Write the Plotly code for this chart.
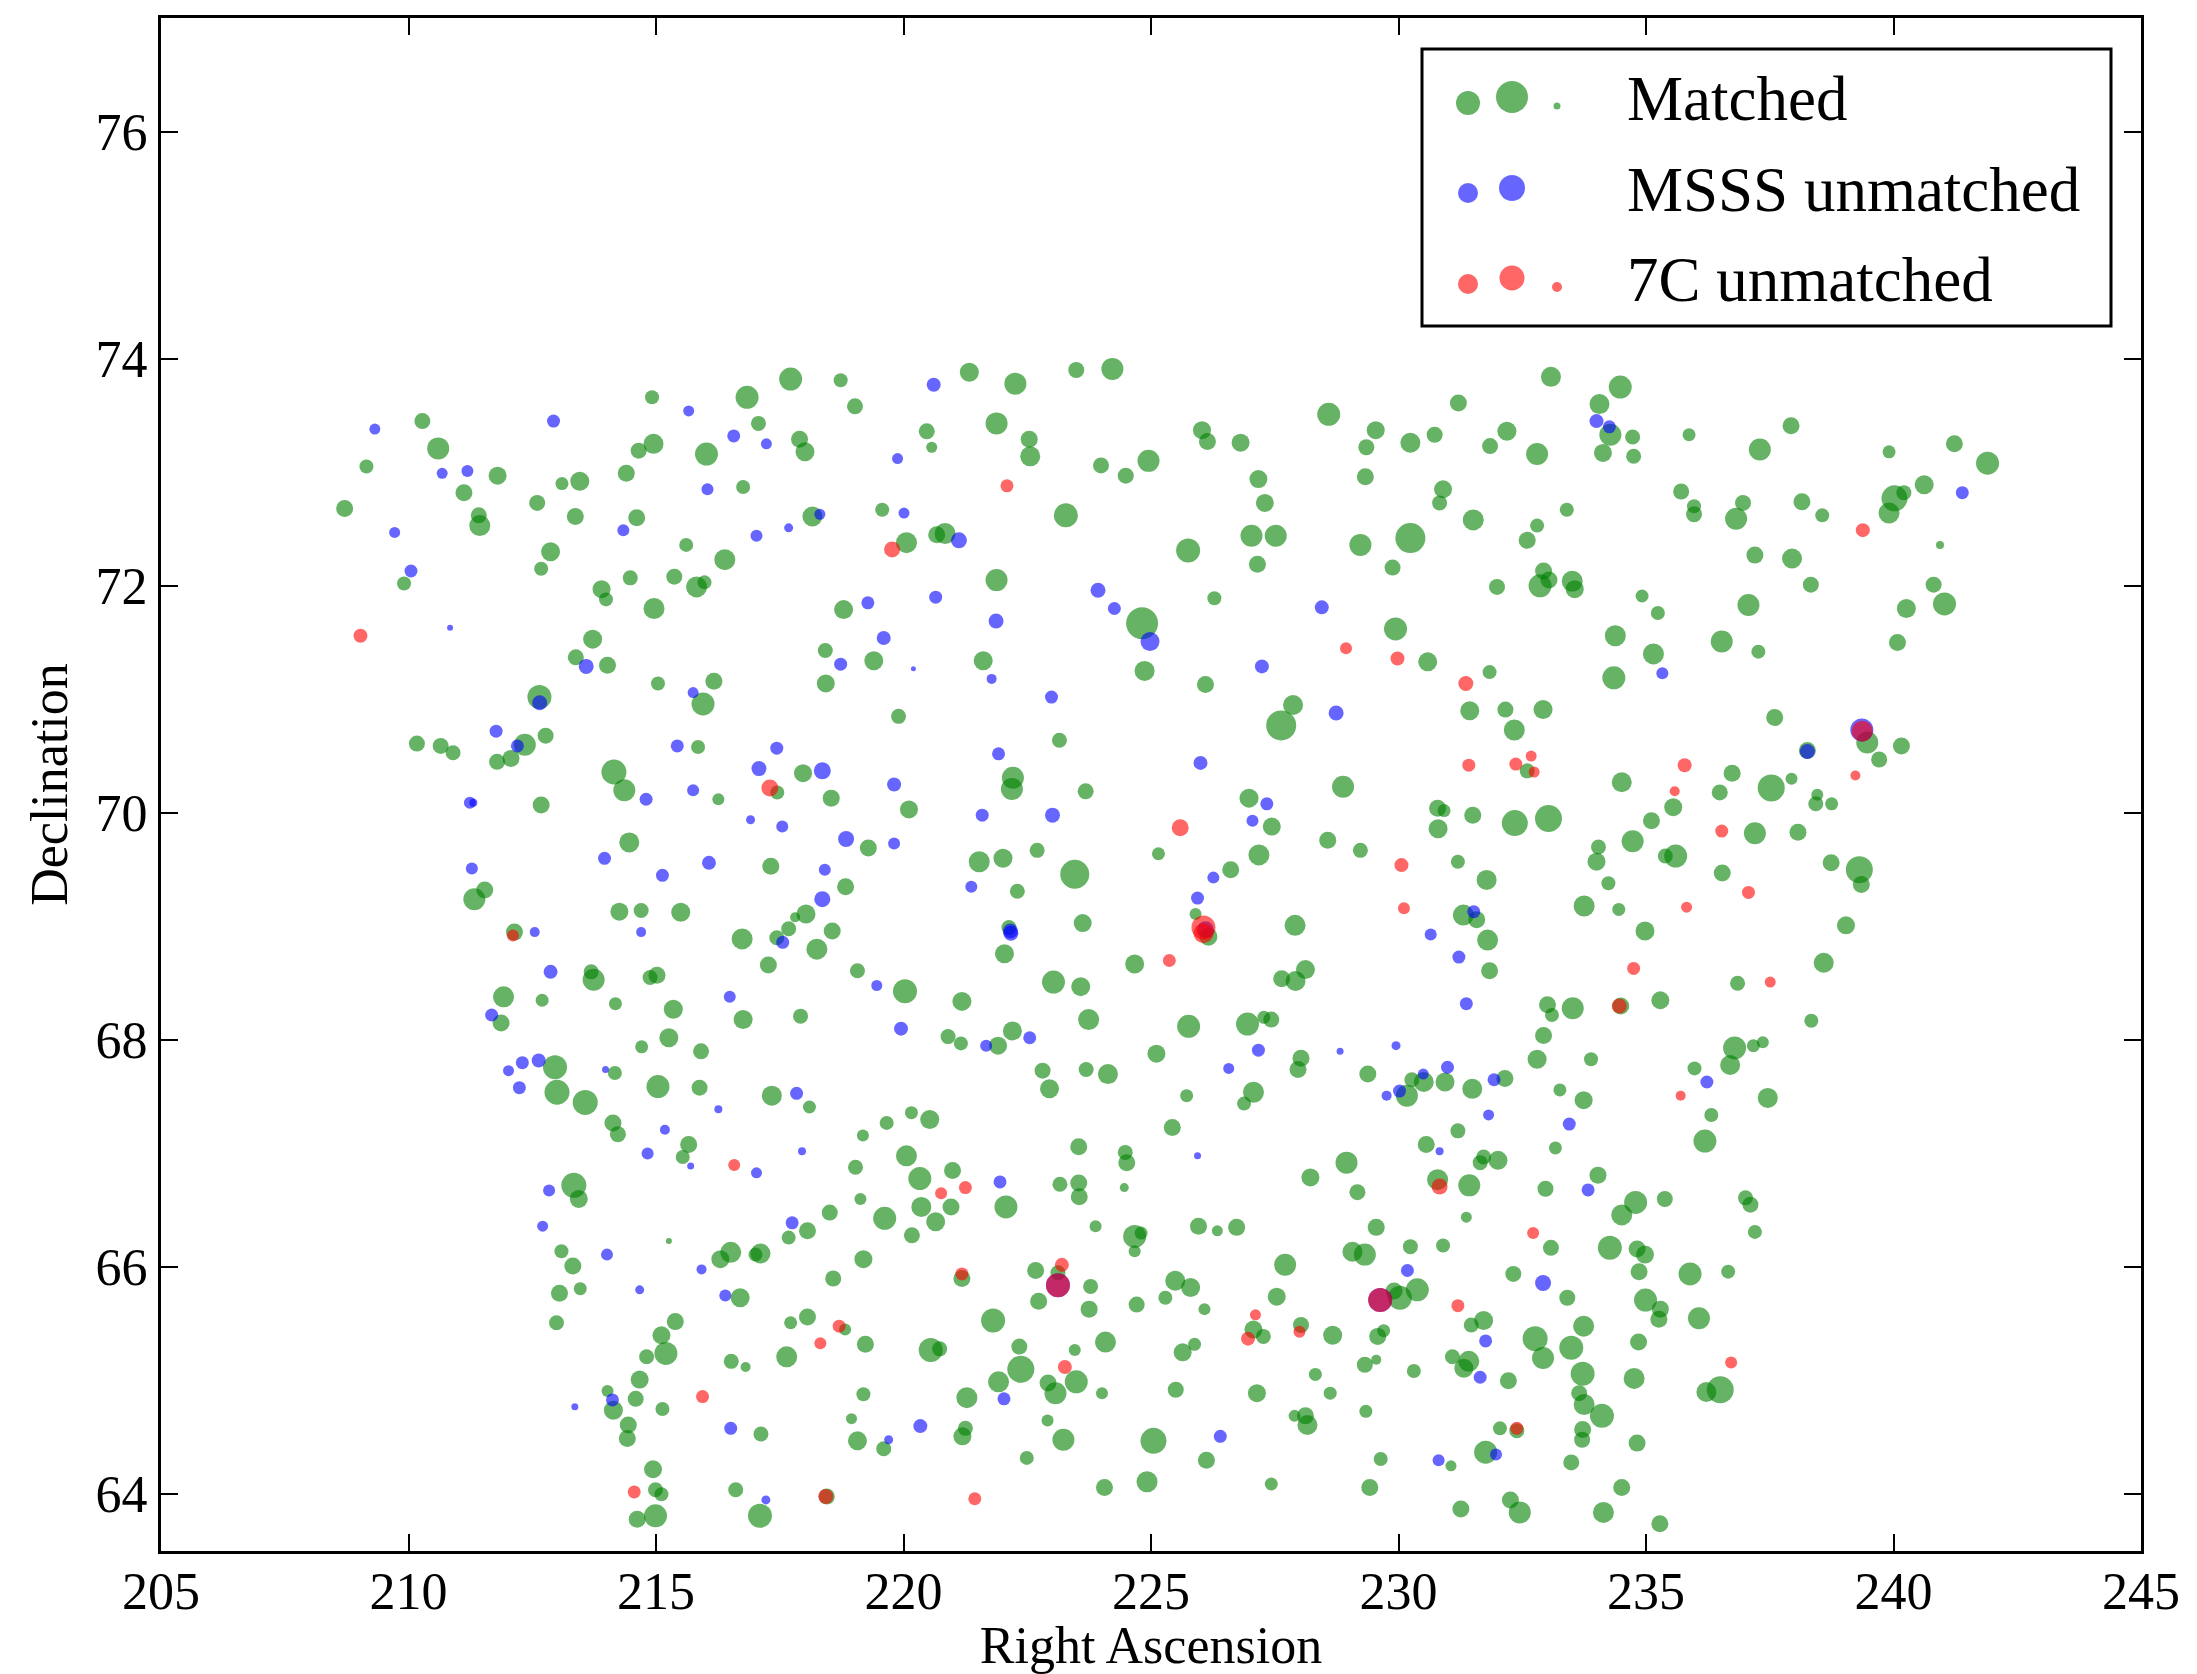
import plotly.graph_objects as go

# (RA, Dec, marker diameter) for each source class
matched = [
(210.28,73.45,16),(210.60,73.21,22),(209.15,73.05,14),(211.80,72.97,18),(211.12,72.82,17),(208.71,72.68,17),(211.42,72.62,16),(211.44,72.53,21),(212.60,72.73,16),(213.10,72.90,13),(213.46,72.92,19),(214.40,72.99,17),(213.37,72.61,17),(214.61,72.60,17),(214.92,73.66,14),(216.84,73.66,23),(217.72,73.82,23),(218.73,73.81,14),(219.02,73.58,16),(214.95,73.25,20),(214.65,73.19,16),(216.02,73.16,23),(217.07,73.43,15),(217.90,73.29,17),(218.01,73.18,19),(216.76,72.87,14),(218.16,72.61,20),(215.61,72.36,14),(216.39,72.23,21),(209.91,72.02,14),(212.87,72.30,19),(212.68,72.15,14),(213.90,71.97,18),(213.99,71.88,14),(214.48,72.07,15),(215.37,72.08,16),(215.82,71.99,21),(215.98,72.03,14),(214.96,71.80,21),(218.79,71.79,19),(213.72,71.53,19),(213.38,71.37,16),(214.02,71.30,17),(215.04,71.14,14),(216.17,71.16,17),(215.95,70.96,23),(218.42,71.43,15),(218.43,71.14,18),(212.645,71.02,24),(210.17,70.61,16),(210.65,70.59,16),(210.90,70.53,15),(212.35,70.60,22),(212.77,70.68,16),(215.85,70.58,14),
(221.33,73.88,19),(222.26,73.78,22),(223.49,73.90,16),(224.22,73.91,22),(220.47,73.36,16),(220.57,73.22,11),(221.88,73.43,22),(222.54,73.29,17),(222.56,73.14,20),(223.99,73.06,16),(224.49,72.97,16),(224.95,73.10,22),(226.03,73.37,18),(226.14,73.27,17),(226.81,73.26,18),(228.59,73.51,23),(229.54,73.37,18),(229.35,73.22,16),(230.24,73.26,20),(230.73,73.33,16),(227.17,72.94,18),(227.30,72.73,18),(229.33,72.96,17),(219.57,72.67,14),(220.06,72.38,21),(220.67,72.45,17),(220.84,72.46,21),(223.28,72.62,24),(225.75,72.31,24),(227.03,72.44,22),(227.52,72.44,22),(227.15,72.19,17),(229.23,72.36,22),(230.24,72.42,30),(229.88,72.16,16),(221.88,72.05,22),(224.82,71.67,32),(226.28,71.89,14),(229.94,71.62,23),(230.59,71.33,19),(219.40,71.34,19),(221.61,71.34,19),(224.87,71.25,20),(226.10,71.13,17),(219.90,70.85,15),(223.15,70.64,15),(227.87,70.95,20),(227.63,70.77,30),
(231.21,73.61,17),(233.08,73.84,20),(234.48,73.75,23),(234.06,73.60,20),(234.28,73.33,22),(234.73,73.31,15),(234.13,73.17,18),(234.75,73.14,15),(232.19,73.36,19),(231.85,73.23,16),(232.80,73.16,22),(235.87,73.33,13),(237.30,73.20,22),(237.93,73.41,17),(239.91,73.18,13),(241.23,73.25,17),(241.90,73.08,23),(230.90,72.85,18),(230.83,72.73,15),(231.51,72.58,21),(233.40,72.67,14),(232.80,72.53,14),(232.60,72.40,17),(235.71,72.83,16),(235.97,72.70,14),(235.97,72.63,16),(236.96,72.73,16),(236.82,72.59,22),(238.15,72.74,17),(238.56,72.62,14),(240.02,72.77,26),(240.21,72.82,15),(239.91,72.64,21),(240.62,72.89,19),(240.94,72.36,8),(237.20,72.27,17),(237.95,72.24,20),(238.33,72.01,16),(232.93,72.13,17),(232.86,72.00,23),(233.04,72.05,17),(233.51,72.04,21),(233.56,71.97,18),(231.99,71.99,16),(234.92,71.91,13),(235.24,71.76,14),(237.07,71.83,22),(240.81,72.01,16),(240.26,71.80,19),(241.03,71.84,23),(234.38,71.56,21),(235.15,71.40,21),(234.35,71.19,23),(236.53,71.51,22),(237.27,71.42,14),(240.08,71.50,17),(231.84,71.24,14),(231.44,70.90,19),(232.16,70.91,16),(232.92,70.91,19),(232.34,70.73,21),(237.60,70.84,17),(239.47,70.62,22),(240.16,70.59,17),(238.26,70.55,17),
(211.79,70.45,16),(212.07,70.48,17),(214.15,70.36,25),(214.36,70.20,22),(212.68,70.07,17),(216.26,70.12,12),(217.45,70.18,14),(217.97,70.35,18),(218.54,70.13,17),(214.46,69.74,20),(217.32,69.53,17),(218.83,69.35,17),(211.54,69.32,17),(211.33,69.24,22),(214.26,69.13,18),(214.70,69.14,15),(215.50,69.125,19),(218.03,69.11,19),(217.81,69.08,10),(217.68,68.98,15),(218.56,68.96,17),(217.44,68.90,15),(216.74,68.89,21),(218.25,68.80,21),(212.14,68.95,17),(217.27,68.66,17),(213.69,68.60,15),(213.74,68.53,22),(214.88,68.55,15),(215.02,68.57,17),(211.92,68.38,21),(212.70,68.35,13),(214.18,68.32,13),(215.35,68.27,19),(216.76,68.18,19),(217.92,68.21,15),(211.87,68.15,17),(215.26,68.02,19),(214.71,67.94,13),(215.91,67.90,16),(212.96,67.76,24),(214.17,67.71,14),(213.00,67.54,25),(213.57,67.45,25),(215.04,67.59,23),(215.88,67.58,16),(217.34,67.51,20),(218.10,67.41,13),(214.13,67.27,17),(214.23,67.17,16),(215.66,67.08,17),(215.54,66.97,14),
(222.21,70.31,22),(222.19,70.21,22),(220.11,70.03,18),(223.68,70.19,16),(226.98,70.13,19),(227.44,69.88,18),(228.88,70.23,22),(219.29,69.69,17),(221.53,69.57,21),(222.01,69.60,19),(222.70,69.67,15),(223.46,69.46,29),(222.30,69.31,15),(225.15,69.64,13),(227.18,69.63,21),(226.61,69.50,17),(228.57,69.76,17),(229.23,69.67,15),(225.90,69.11,12),(226.16,68.91,18),(227.91,69.01,21),(222.13,68.99,15),(222.04,68.76,19),(223.62,69.03,18),(219.07,68.61,15),(220.03,68.43,24),(221.18,68.34,19),(223.03,68.51,23),(223.58,68.47,19),(224.67,68.67,19),(227.64,68.54,17),(228.12,68.62,19),(227.92,68.52,20),(220.90,68.03,15),(221.16,67.97,14),(221.91,67.95,18),(222.20,68.08,19),(223.74,68.18,21),(225.76,68.12,23),(225.11,67.88,18),(226.95,68.14,23),(227.28,68.20,13),(227.43,68.18,16),(228.03,67.84,17),(227.97,67.74,17),(229.38,67.70,17),(230.27,67.65,15),(230.51,67.63,20),(230.17,67.51,22),(222.81,67.73,16),(222.95,67.57,19),(223.69,67.74,15),(224.13,67.70,20),(227.07,67.54,21),(226.88,67.44,14),(225.72,67.51,13),(225.43,67.23,17),(219.66,67.27,14),(220.16,67.36,13),(220.53,67.30,19),(219.18,67.16,12),(220.06,66.98,21),(223.54,67.06,17),(224.48,67.01,15),(224.51,66.92,17),(230.56,67.08,17),(228.95,66.92,22),
(232.60,70.37,15),(234.51,70.27,20),(236.74,70.35,17),(236.49,70.18,16),(237.53,70.22,27),(237.94,70.30,12),(238.46,70.16,12),(238.43,70.08,15),(238.75,70.08,13),(239.71,70.47,16),(230.79,70.04,17),(230.92,70.02,13),(230.80,69.86,19),(231.50,69.98,17),(232.35,69.91,26),(233.03,69.95,27),(235.11,69.93,17),(235.55,70.05,18),(237.20,69.82,22),(238.07,69.83,17),(234.73,69.75,22),(234.04,69.70,15),(234.00,69.57,18),(235.60,69.62,23),(235.39,69.62,15),(231.20,69.57,14),(231.78,69.41,20),(234.24,69.38,14),(236.54,69.47,17),(238.74,69.56,17),(239.31,69.50,27),(239.35,69.37,17),(233.75,69.18,21),(234.45,69.15,13),(234.98,68.96,19),(239.04,69.01,18),(231.31,69.10,21),(231.58,69.06,17),(231.80,68.88,21),(231.84,68.61,17),(238.59,68.68,20),(236.85,68.50,15),(233.01,68.31,17),(233.10,68.22,14),(233.52,68.28,22),(234.49,68.30,17),(235.29,68.35,18),(238.34,68.17,14),(232.93,68.04,17),(232.80,67.83,19),(233.89,67.83,14),(236.79,67.93,23),(237.17,67.95,13),(237.36,67.98,12),(236.70,67.78,20),(235.98,67.75,14),(237.46,67.49,20),(236.32,67.34,14),(236.19,67.11,23),(230.94,67.63,19),(232.15,67.66,17),(231.49,67.57,20),(233.26,67.56,13),(233.74,67.47,18),(231.20,67.20,15),(233.17,67.05,13),(231.72,66.97,15),(232.01,66.94,19),(231.65,66.92,15),
(213.34,66.72,25),(213.44,66.60,18),(215.26,66.23,6),(213.09,66.14,14),(213.32,66.01,17),(213.05,65.77,17),(213.47,65.81,13),(212.99,65.51,15),(216.30,66.07,18),(216.51,66.13,21),(217.01,66.11,14),(217.11,66.12,20),(216.70,65.73,19),(218.06,66.32,17),(217.68,66.26,14),(218.51,66.48,16),(218.58,65.90,16),(215.39,65.52,17),(215.11,65.40,18),(215.20,65.24,23),(214.81,65.21,15),(214.67,65.01,18),(214.02,64.91,12),(214.14,64.74,19),(214.59,64.84,16),(215.13,64.75,14),(214.44,64.61,17),(214.42,64.49,17),(216.52,65.17,15),(216.81,65.12,10),(217.64,65.21,21),(217.72,65.51,13),(218.06,65.56,17),(218.82,65.45,12),(218.95,64.665,11),(217.12,64.53,15),(214.94,64.22,18),(214.99,64.04,15),(215.11,64.00,14),(214.62,63.78,17),(214.99,63.81,23),(216.61,64.04,15),(217.10,63.81,24),(218.45,63.98,16),
(219.03,66.88,15),(220.99,66.85,17),(220.33,66.78,23),(223.16,66.73,15),(223.54,66.74,17),(223.55,66.62,17),(224.46,66.70,9),(219.13,66.60,12),(220.36,66.53,20),(220.96,66.53,17),(222.07,66.53,23),(219.62,66.43,23),(220.65,66.40,19),(220.17,66.28,16),(219.19,66.07,18),(223.88,66.36,12),(224.67,66.27,23),(224.80,66.30,13),(224.67,66.14,12),(225.96,66.36,17),(226.34,66.32,11),(226.73,66.35,17),(228.22,66.79,18),(229.17,66.66,16),(229.55,66.35,17),(230.24,66.18,15),(229.07,66.135,20),(229.32,66.11,22),(227.71,66.02,22),(221.18,65.90,17),(222.67,65.97,17),(223.12,65.95,15),(223.78,65.83,15),(222.73,65.70,17),(223.75,65.63,17),(224.71,65.67,16),(225.49,65.88,20),(225.80,65.82,19),(225.29,65.73,14),(226.08,65.63,12),(227.54,65.74,18),(221.81,65.53,24),(219.23,65.32,17),(220.55,65.27,24),(220.73,65.28,15),(222.34,65.30,16),(222.37,65.10,27),(223.46,65.27,12),(224.08,65.34,21),(221.92,64.99,21),(222.92,64.98,17),(223.07,64.89,22),(223.49,64.99,23),(224.01,64.89,12),(219.19,64.88,14),(221.28,64.85,21),(221.25,64.58,15),(221.19,64.51,18),(219.60,64.40,15),(219.07,64.47,19),(222.91,64.65,12),(223.23,64.48,22),(222.49,64.32,14),(225.05,64.47,26),(225.64,65.25,18),(225.88,65.32,13),(227.07,65.45,18),(227.27,65.39,15),(228.03,65.49,16),(228.67,65.40,19),(229.91,65.79,17),(230.03,65.73,24),(230.38,65.80,23),(229.70,65.44,13),(229.58,65.39,17),(229.32,65.14,16),(229.55,65.185,10),(228.32,65.055,13),(230.31,65.085,14),(225.50,64.92,16),(227.14,64.89,18),(228.62,64.89,13),(229.34,64.73,13),(227.90,64.69,12),(228.12,64.69,17),(228.16,64.61,20),(226.12,64.30,17),(229.64,64.31,14),(224.06,64.06,17),(224.92,64.11,21),(227.43,64.09,13),(229.42,64.06,17),
(230.79,66.77,21),(231.43,66.72,22),(232.97,66.69,16),(234.03,66.81,17),(231.37,66.44,11),(230.90,66.19,14),(233.08,66.17,16),(234.79,66.57,23),(234.51,66.46,21),(235.38,66.60,16),(237.01,66.61,15),(237.11,66.55,16),(237.20,66.31,14),(234.27,66.17,24),(234.82,66.16,17),(234.98,66.11,18),(234.86,65.96,17),(235.89,65.94,23),(236.66,65.96,14),(232.32,65.94,16),(233.41,65.73,16),(231.72,65.53,19),(231.47,65.49,15),(232.76,65.37,25),(232.92,65.20,22),(233.74,65.48,21),(233.49,65.29,24),(234.99,65.71,23),(235.29,65.63,17),(235.26,65.54,17),(236.07,65.55,22),(234.85,65.34,17),(231.09,65.21,15),(231.42,65.17,21),(231.32,65.11,19),(232.22,65.00,17),(233.72,65.06,24),(233.65,64.89,16),(233.75,64.79,21),(234.11,64.69,24),(234.76,65.02,21),(236.22,64.90,20),(236.50,64.92,27),(232.05,64.58,14),(232.39,64.56,15),(233.72,64.57,17),(233.71,64.48,16),(234.82,64.45,17),(231.76,64.37,23),(231.06,64.25,11),(233.49,64.28,16),(234.51,64.06,17),(231.26,63.87,17),(232.26,63.95,17),(232.45,63.84,22),(234.14,63.84,21),(235.28,63.74,17),
]

msss_unmatched = [
(209.32,73.38,11),(212.93,73.45,13),(210.68,72.99,11),(211.19,73.01,12),(214.34,72.49,12),(215.66,73.54,11),(216.57,73.32,13),(217.23,73.25,11),(216.04,72.85,12),(218.31,72.63,11),(217.68,72.51,9),(217.03,72.44,12),(209.72,72.47,11),(210.05,72.13,13),(210.84,71.63,6),(213.59,71.29,15),(215.75,71.06,11),(218.73,71.31,13),(212.65,70.97,15),(211.77,70.72,13),(212.20,70.59,13),(215.43,70.59,13),(217.44,70.57,13),
(220.61,73.77,14),(219.88,73.12,11),(220.01,72.64,11),(221.12,72.40,16),(220.65,71.90,13),(219.28,71.85,13),(223.93,71.96,15),(224.26,71.80,13),(224.98,71.51,19),(221.87,71.69,15),(219.60,71.54,14),(220.20,71.27,5),(221.78,71.18,10),(227.24,71.29,14),(228.45,71.81,14),(222.99,71.02,13),(221.92,70.52,13),(228.74,70.88,15),
(234.00,73.45,14),(234.26,73.40,13),(241.39,72.82,13),(235.33,71.23,12),(239.36,70.73,23),(238.26,70.54,15),
(211.24,70.09,12),(211.31,70.09,8),(214.80,70.12,13),(215.75,70.20,12),(217.08,70.39,15),(218.36,70.37,17),(216.91,69.94,9),(217.55,69.88,12),(218.84,69.77,16),(213.96,69.60,13),(211.28,69.51,12),(215.13,69.45,13),(216.07,69.56,14),(218.41,69.50,12),(218.36,69.24,16),(217.56,68.86,13),(212.55,68.95,10),(214.70,68.95,10),(212.87,68.60,14),(216.49,68.38,12),(211.68,68.22,13),(212.02,67.73,11),(212.30,67.80,13),(212.63,67.82,14),(213.98,67.74,7),(212.24,67.58,13),(217.84,67.53,13),(216.26,67.39,8),(215.18,67.21,10),(214.83,67.00,12),(217.95,67.02,8),
(226.00,70.44,14),(219.81,70.25,14),(221.59,69.98,13),(223.01,69.98,15),(227.34,70.08,13),(227.05,69.93,12),(219.81,69.73,12),(221.37,69.35,12),(226.26,69.43,12),(225.94,69.25,13),(226.10,68.97,17),(230.65,68.93,12),(222.16,68.96,15),(222.17,68.94,15),(219.46,68.48,11),(219.95,68.10,14),(221.67,67.95,12),(222.55,68.02,13),(227.17,67.91,13),(226.57,67.75,11),(228.82,67.90,7),(229.95,67.95,9),(230.50,67.70,11),(230.02,67.55,13),(229.76,67.51,10),(225.94,66.98,7),
(231.52,69.13,13),(231.22,68.73,13),(231.37,68.32,13),(236.23,67.63,13),(230.99,67.76,13),(231.93,67.65,13),(231.82,67.34,11),(233.45,67.26,13),(230.83,67.02,8),
(215.70,66.89,7),(217.03,66.83,11),(212.84,66.675,12),(212.71,66.36,11),(214.01,66.11,12),(214.67,65.80,9),(215.92,65.98,10),(216.40,65.75,12),(217.75,66.39,13),(214.12,64.83,13),(213.36,64.77,7),(216.51,64.58,13),(217.22,63.95,9),
(221.95,66.75,13),(223.12,65.84,24),(230.18,65.97,13),(229.63,65.71,24),(222.03,64.84,13),(220.34,64.60,14),(219.70,64.48,9),(226.40,64.51,13),
(233.83,66.68,13),(232.92,65.86,16),(231.76,65.35,13),(231.65,65.03,13),(231.97,64.35,12),(230.81,64.30,12),
]

c7_unmatched = [
(209.03,71.56,14),
(222.09,72.88,13),(219.77,72.32,16),(228.94,71.45,12),(229.98,71.36,14),
(239.38,72.49,14),(231.36,71.14,15),(239.37,70.72,21),
(217.30,70.22,17),(212.11,68.92,12),
(225.59,69.87,17),(230.06,69.54,14),(230.11,69.16,12),(226.06,68.99,24),(226.06,68.94,20),(225.37,68.70,13),
(231.42,70.42,13),(232.37,70.43,13),(232.68,70.50,11),(232.74,70.36,11),(235.78,70.42,14),(235.58,70.19,10),(239.23,70.33,10),(236.53,69.84,13),(237.07,69.30,13),(235.82,69.17,11),(234.75,68.63,13),(237.51,68.51,11),(234.46,68.30,15),(235.70,67.51,10),
(216.58,66.90,12),(215.94,64.86,13),(218.70,65.48,13),(218.32,65.33,12),(214.56,64.02,13),(218.43,63.98,15),
(220.76,66.65,12),(221.25,66.70,13),(221.18,65.94,13),(223.20,66.02,14),(223.12,65.84,24),(223.26,65.12,14),(227.11,65.58,11),(226.96,65.37,14),(228.00,65.43,12),(229.63,65.71,24),(221.44,63.96,13),
(230.83,66.71,16),(232.72,66.30,12),(231.20,65.66,13),(236.72,65.16,12),(232.39,64.58,13),
]

series_names = ["Matched", "MSSS unmatched", "7C unmatched"]
series_colors = ["rgb(0,128,0)", "rgb(0,0,255)", "rgb(255,0,0)"]
x_ticks = [205, 210, 215, 220, 225, 230, 235, 240, 245]
y_ticks = [64, 66, 68, 70, 72, 74, 76]

FONT = "Liberation Serif"
W, H = 2197, 1674
ML, MR, MT, MB = 161, 56, 18, 123
PW, PH = W - ML - MR, H - MT - MB

fig = go.Figure()
for name, col, pts in zip(series_names, series_colors, [matched, msss_unmatched, c7_unmatched]):
    fig.add_trace(go.Scatter(
        x=[p[0] for p in pts], y=[p[1] for p in pts], mode="markers", name=name,
        marker=dict(size=[p[2] for p in pts], color=col, opacity=0.6, line=dict(width=0)),
        showlegend=False, hoverinfo="x+y"))

axis_common = dict(showline=True, linecolor="black", linewidth=3, mirror="ticks",
                   ticks="inside", ticklen=17, tickwidth=2, tickcolor="black",
                   showgrid=False, zeroline=False,
                   tickfont=dict(family=FONT, size=52, color="black"))
fig.update_xaxes(range=[205, 245], tickvals=x_ticks, ticktext=[str(v) for v in x_ticks],
                 ticklabelstandoff=-7,
                 title=dict(text="Right Ascension", font=dict(family=FONT, size=52, color="black"), standoff=11),
                 **axis_common)
fig.update_yaxes(range=[63.5, 77], tickvals=y_ticks, ticktext=[str(v) for v in y_ticks],
                 title=dict(text="Declination", font=dict(family=FONT, size=52, color="black"), standoff=12),
                 **axis_common)

def px(x):
    return (x - ML) / PW

def py(y):
    return 1 - (y - MT) / PH

shapes = [dict(type="rect", xref="paper", yref="paper", x0=px(1422), x1=px(2111), y0=py(326), y1=py(49),
               line=dict(color="black", width=3), fillcolor="white", layer="above")]
legend_markers = [
    (0, [(1468, 103, 24), (1512, 97, 32), (1557, 106, 7)]),
    (1, [(1468, 193, 20), (1512, 188, 26)]),
    (2, [(1468, 284, 20), (1512, 278, 25), (1557, 287, 10)]),
]
for idx, marks in legend_markers:
    for cx, cy, d in marks:
        shapes.append(dict(type="circle", xref="paper", yref="paper", xsizemode="pixel", ysizemode="pixel",
                           xanchor=px(cx), yanchor=py(cy), x0=-d / 2, x1=d / 2, y0=-d / 2, y1=d / 2,
                           fillcolor=series_colors[idx], opacity=0.6, line=dict(width=0), layer="above"))
annotations = []
for name, cy in zip(series_names, [99, 190, 280]):
    annotations.append(dict(text=name, xref="paper", yref="paper", x=px(1625), y=py(cy),
                            xanchor="left", yanchor="middle", showarrow=False,
                            font=dict(family=FONT, size=63, color="black")))

fig.update_layout(width=W, height=H, margin=dict(l=ML, r=MR, t=MT, b=MB, autoexpand=False),
                  paper_bgcolor="white", plot_bgcolor="white", showlegend=False,
                  font=dict(family=FONT, color="black"), shapes=shapes, annotations=annotations)

fig.write_html("out.html")
